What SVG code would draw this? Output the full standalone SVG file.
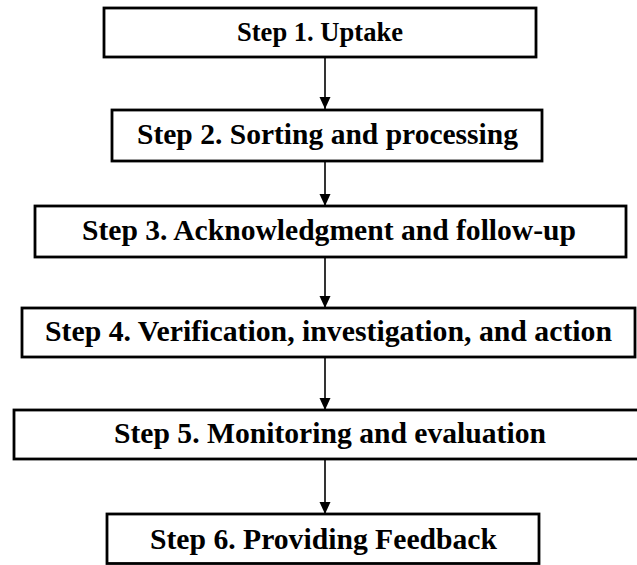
<svg xmlns="http://www.w3.org/2000/svg" width="637" height="565" viewBox="0 0 637 565">
<style>
.box{fill:#fff;stroke:#000;stroke-width:2.8}
.lbl{font-family:'Liberation Serif','Times New Roman','DejaVu Serif',serif;font-weight:700;font-size:29.5px;fill:#000;text-anchor:middle}
.conn{stroke:#000;stroke-width:1.6;fill:none}
</style>
<defs>
<marker id="ah" markerUnits="userSpaceOnUse" markerWidth="14" markerHeight="14" viewBox="0 0 14 14" refX="12" refY="7" orient="auto">
<path d="M0,1.5 L12,7 L0,12.5 Z" fill="#000"/>
</marker>
</defs>
<rect width="637" height="565" fill="#fff"/>
<g id="connectors">
<line class="conn" x1="325" y1="57" x2="325" y2="109" marker-end="url(#ah)"/>
<line class="conn" x1="325" y1="161" x2="325" y2="206" marker-end="url(#ah)"/>
<line class="conn" x1="325" y1="257" x2="325" y2="308" marker-end="url(#ah)"/>
<line class="conn" x1="325" y1="357" x2="325" y2="410" marker-end="url(#ah)"/>
<line class="conn" x1="325" y1="459" x2="325" y2="514" marker-end="url(#ah)"/>
</g>
<g id="step1">
<rect class="box" x="104" y="8" width="432" height="49"/>
<text class="lbl" x="320" y="41" font-size="26.5" style="font-size:26.5px" textLength="166" lengthAdjust="spacingAndGlyphs">Step 1. Uptake</text>
</g>
<g id="step2">
<rect class="box" x="112" y="110" width="430" height="51"/>
<text class="lbl" x="327.5" y="144" textLength="381" lengthAdjust="spacingAndGlyphs">Step 2. Sorting and processing</text>
</g>
<g id="step3">
<rect class="box" x="35" y="206" width="591" height="51"/>
<text class="lbl" x="329" y="240" textLength="494" lengthAdjust="spacingAndGlyphs">Step 3. Acknowledgment and follow-up</text>
</g>
<g id="step4">
<rect class="box" x="22" y="308" width="613" height="49"/>
<text class="lbl" x="328.5" y="341" textLength="567" lengthAdjust="spacingAndGlyphs">Step 4. Verification, investigation, and action</text>
</g>
<g id="step5">
<rect class="box" x="14" y="410" width="626" height="49"/>
<text class="lbl" x="330" y="443" textLength="432" lengthAdjust="spacingAndGlyphs">Step 5. Monitoring and evaluation</text>
</g>
<g id="step6">
<rect class="box" x="107" y="514" width="432" height="49.5"/>
<text class="lbl" x="323.5" y="549" textLength="347" lengthAdjust="spacingAndGlyphs">Step 6. Providing Feedback</text>
</g>
</svg>
